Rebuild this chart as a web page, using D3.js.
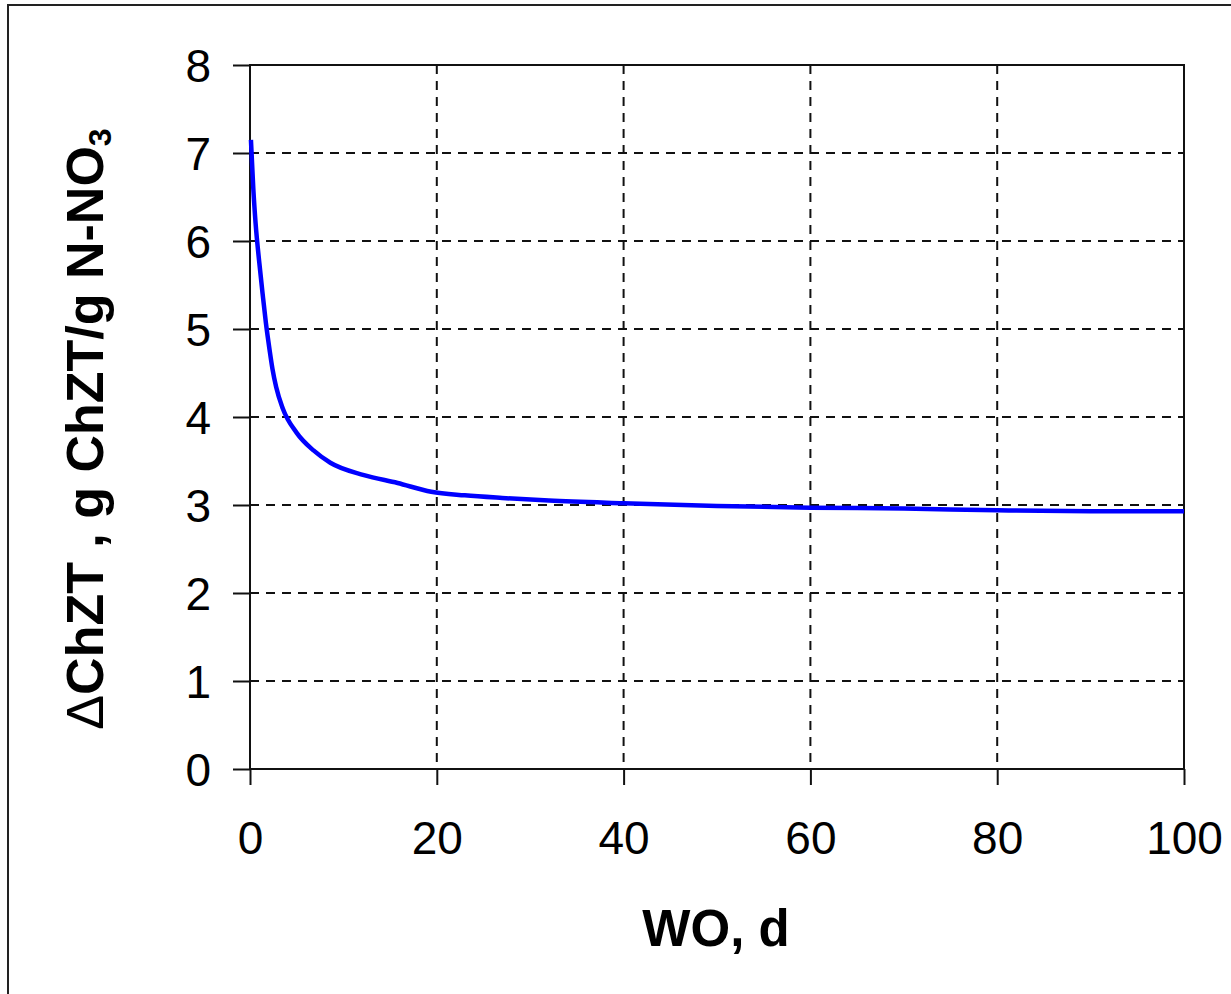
<!DOCTYPE html>
<html>
<head>
<meta charset="utf-8">
<script src="https://cdn.jsdelivr.net/npm/d3@7"></script>
<style>
html,body{margin:0;padding:0;background:#fff;}
svg{display:block;}
</style>
</head>
<body>
<svg id="chart" width="1231" height="994"></svg>
<script>
const xValues = [0.1, 0.35, 0.6, 1.0, 1.35, 1.7, 2.1, 2.4, 2.8, 3.5, 5, 6.8, 8.6, 12.2, 15.8, 19.4, 23, 27, 32, 40, 50, 60, 70, 80, 90, 100];
const yValues = [7.15, 6.6, 6.2, 5.75, 5.4, 5.07, 4.76, 4.55, 4.34, 4.1, 3.82, 3.62, 3.48, 3.34, 3.25, 3.15, 3.11, 3.08, 3.05, 3.02, 2.99, 2.97, 2.96, 2.94, 2.93, 2.93];
const xTicks = [0, 20, 40, 60, 80, 100];
const yTicks = [0, 1, 2, 3, 4, 5, 6, 7, 8];
const xLabel = "WO, d";

const svg = d3.select("#chart");
const font = "'Liberation Sans', Arial, sans-serif";

// outer frame
svg.append("rect").attr("x", 8).attr("y", 5).attr("width", 1240).attr("height", 1010)
  .attr("fill", "#fff").attr("stroke", "#222").attr("stroke-width", 2);

const L = 250, R = 1184, T = 65, B = 769;
const x = d3.scaleLinear().domain([0, 100]).range([L, R]);
const y = d3.scaleLinear().domain([0, 8]).range([B, T]);

// grid
const g = svg.append("g");
g.selectAll(".vg").data(xTicks.filter(d => d > 0 && d < 100)).enter().append("line")
  .attr("x1", d => x(d)).attr("x2", d => x(d)).attr("y1", T).attr("y2", B)
  .attr("stroke", "#111").attr("stroke-width", 2).attr("stroke-dasharray", "9,7");
g.selectAll(".hg").data(yTicks.filter(d => d > 0 && d < 8)).enter().append("line")
  .attr("x1", L).attr("x2", R).attr("y1", d => y(d)).attr("y2", d => y(d))
  .attr("stroke", "#111").attr("stroke-width", 2).attr("stroke-dasharray", "9,7");

// plot frame
svg.append("rect").attr("x", L).attr("y", T).attr("width", R - L).attr("height", B - T)
  .attr("fill", "none").attr("stroke", "#111").attr("stroke-width", 2);

// axes
const xAxis = d3.axisBottom(x).tickValues(xTicks).tickSize(16).tickPadding(36).tickFormat(d3.format("d"));
const yAxis = d3.axisLeft(y).tickValues(yTicks).tickSize(17).tickPadding(22).tickFormat(d3.format("d"));
const xa = svg.append("g").attr("transform", `translate(0,${B})`).call(xAxis);
const ya = svg.append("g").attr("transform", `translate(${L},0)`).call(yAxis);
[xa, ya].forEach(a => {
  a.select(".domain").remove();
  a.selectAll(".tick line").attr("stroke", "#111").attr("stroke-width", 2);
  a.selectAll(".tick text").attr("fill", "#000").style("font-family", font).style("font-size", "46px");
});
ya.selectAll(".tick text").attr("dy", "0.36em");
xa.selectAll(".tick text").attr("dy", "0.71em");

// line
const line = d3.line().x((d, i) => x(xValues[i])).y(d => y(d)).curve(d3.curveMonotoneX);
svg.append("path").datum(yValues).attr("d", line)
  .attr("fill", "none").attr("stroke", "#0000ff").attr("stroke-width", 4.5);

// x label
svg.append("text").attr("x", 716).attr("y", 946).attr("text-anchor", "middle")
  .style("font-family", font).style("font-size", "51px").style("font-weight", "bold")
  .text(xLabel);

// y label
const yl = svg.append("text").attr("transform", "translate(103,429) rotate(-90)")
  .attr("text-anchor", "middle")
  .style("font-family", font).style("font-size", "52px").style("font-weight", "bold");
yl.append("tspan").style("font-weight", "normal").text("\u0394");
yl.append("tspan").text("ChZT , g ChZT/g N-NO");
yl.append("tspan").attr("dy", 8).style("font-size", "32px").text("3");
</script>
</body>
</html>
